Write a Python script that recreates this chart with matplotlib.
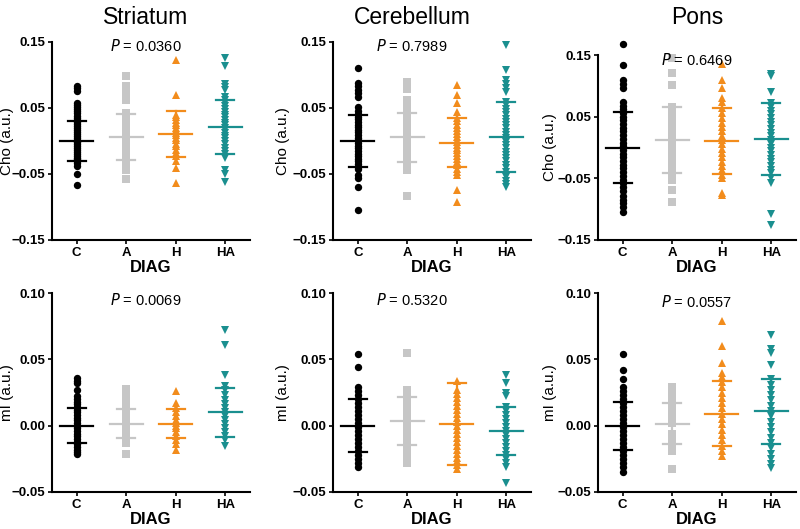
import matplotlib
matplotlib.use("Agg")
import matplotlib.pyplot as plt

plt.rcParams['font.family'] = ['Liberation Sans', 'DejaVu Sans']

groups = ["C", "A", "H", "HA"]
colors = ["#000000", "#c6c6c6", "#f28c1c", "#1a8f8f"]
markers = ["o", "s", "^", "v"]
regions = ["Striatum", "Cerebellum", "Pons"]

# Cho values per region, per group
cho_striatum = [
    [0.083, 0.080, 0.076, 0.058, 0.055, 0.052, 0.048, 0.045, 0.042, 0.038, 0.035, 0.032, 0.029, 0.026,
     0.022, 0.019, 0.016, 0.013, 0.010, 0.008, 0.005, 0.002, 0.0, -0.002, -0.005, -0.008, -0.010, -0.013,
     -0.016, -0.019, -0.022, -0.025, -0.028, -0.031, -0.034, -0.038, -0.050, -0.067],
    [0.099, 0.083, 0.078, 0.074, 0.062, 0.042, 0.039, 0.036, 0.033, 0.030, 0.027, 0.024, 0.020, 0.017,
     0.014, 0.011, 0.008, 0.005, 0.002, -0.001, -0.004, -0.008, -0.012, -0.016, -0.020, -0.024, -0.028,
     -0.033, -0.038, -0.044, -0.058],
    [0.123, 0.069, 0.040, 0.036, 0.032, 0.028, 0.024, 0.020, 0.016, 0.012, 0.009, 0.005, 0.001, -0.004,
     -0.008, -0.013, -0.018, -0.022, -0.030, -0.041, -0.064],
    [0.126, 0.113, 0.086, 0.082, 0.077, 0.066, 0.062, 0.058, 0.053, 0.048, 0.044, 0.040, 0.036, 0.032,
     0.028, 0.024, 0.020, 0.016, 0.012, 0.008, 0.004, 0.0, -0.005, -0.010, -0.015, -0.020, -0.025,
     -0.044, -0.050, -0.062],
]
cho_cerebellum = [
    [0.110, 0.088, 0.083, 0.078, 0.072, 0.066, 0.052, 0.045, 0.041, 0.037, 0.033, 0.029, 0.025, 0.021,
     0.017, 0.013, 0.009, 0.005, 0.001, -0.003, -0.007, -0.011, -0.015, -0.019, -0.023, -0.027, -0.031,
     -0.035, -0.039, -0.043, -0.052, -0.056, -0.069, -0.105],
    [0.090, 0.079, 0.062, 0.058, 0.054, 0.050, 0.046, 0.042, 0.038, 0.034, 0.030, 0.026, 0.022, 0.018,
     0.014, 0.010, 0.006, 0.002, -0.002, -0.006, -0.010, -0.014, -0.018, -0.022, -0.026, -0.030, -0.034,
     -0.038, -0.044, -0.083],
    [0.085, 0.070, 0.058, 0.044, 0.035, 0.030, 0.025, 0.020, 0.015, 0.010, 0.006, 0.002, -0.002, -0.006,
     -0.010, -0.014, -0.018, -0.022, -0.027, -0.032, -0.037, -0.042, -0.047, -0.052, -0.074, -0.092],
    [0.145, 0.108, 0.092, 0.086, 0.080, 0.074, 0.059, 0.054, 0.049, 0.044, 0.039, 0.034, 0.029, 0.024,
     0.019, 0.014, 0.009, 0.004, -0.001, -0.006, -0.011, -0.016, -0.021, -0.026, -0.031, -0.036, -0.041,
     -0.047, -0.055, -0.060, -0.065, -0.070],
]
cho_pons = [
    [0.168, 0.134, 0.109, 0.103, 0.097, 0.074, 0.068, 0.062, 0.056, 0.050, 0.044, 0.038, 0.032, 0.026,
     0.020, 0.014, 0.008, 0.002, -0.004, -0.010, -0.016, -0.022, -0.028, -0.034, -0.040, -0.046, -0.052,
     -0.058, -0.064, -0.070, -0.078, -0.085, -0.090, -0.096, -0.104],
    [0.145, 0.121, 0.101, 0.066, 0.060, 0.054, 0.048, 0.042, 0.036, 0.030, 0.024, 0.018, 0.012, 0.006,
     0.0, -0.006, -0.012, -0.018, -0.024, -0.030, -0.036, -0.042, -0.048, -0.053, -0.069, -0.088],
    [0.135, 0.109, 0.096, 0.080, 0.074, 0.064, 0.056, 0.048, 0.040, 0.033, 0.026, 0.019, 0.012, 0.005,
     -0.002, -0.009, -0.016, -0.023, -0.030, -0.037, -0.044, -0.050, -0.074, -0.077],
    [0.120, 0.116, 0.090, 0.072, 0.066, 0.060, 0.054, 0.048, 0.042, 0.036, 0.030, 0.024, 0.018, 0.012,
     0.006, 0.0, -0.006, -0.012, -0.018, -0.024, -0.030, -0.036, -0.042, -0.050, -0.058, -0.108, -0.126],
]

# mI values per region, per group
mi_striatum = [
    [0.036, 0.034, 0.032, 0.027, 0.022, 0.020, 0.018, 0.016, 0.014, 0.012, 0.010, 0.008, 0.006, 0.004,
     0.002, 0.0, -0.002, -0.004, -0.006, -0.008, -0.010, -0.012, -0.014, -0.016, -0.018, -0.020, -0.021],
    [0.028, 0.026, 0.023, 0.020, 0.017, 0.014, 0.011, 0.008, 0.005, 0.002, -0.001, -0.004, -0.007,
     -0.010, -0.013, -0.021],
    [0.026, 0.017, 0.013, 0.010, 0.007, 0.004, 0.002, 0.0, -0.002, -0.005, -0.008, -0.011, -0.014, -0.018],
    [0.072, 0.061, 0.038, 0.030, 0.027, 0.023, 0.019, 0.016, 0.013, 0.010, 0.007, 0.004, 0.001, -0.002,
     -0.005, -0.008, -0.011, -0.015],
]
mi_cerebellum = [
    [0.054, 0.044, 0.029, 0.026, 0.023, 0.020, 0.017, 0.014, 0.011, 0.008, 0.005, 0.002, -0.001, -0.004,
     -0.007, -0.010, -0.013, -0.016, -0.019, -0.022, -0.025, -0.028, -0.031],
    [0.055, 0.027, 0.024, 0.021, 0.018, 0.015, 0.012, 0.009, 0.006, 0.003, 0.0, -0.003, -0.006, -0.009,
     -0.012, -0.016, -0.020, -0.024, -0.028],
    [0.034, 0.027, 0.024, 0.021, 0.018, 0.015, 0.012, 0.009, 0.006, 0.003, 0.0, -0.003, -0.006, -0.009,
     -0.012, -0.015, -0.018, -0.021, -0.024, -0.027, -0.030, -0.033],
    [0.038, 0.032, 0.025, 0.022, 0.014, 0.011, 0.008, 0.005, 0.002, -0.001, -0.004, -0.007, -0.010,
     -0.013, -0.016, -0.019, -0.022, -0.025, -0.028, -0.031, -0.043],
]
mi_pons = [
    [0.054, 0.042, 0.035, 0.029, 0.026, 0.023, 0.020, 0.017, 0.014, 0.011, 0.008, 0.005, 0.002, -0.001,
     -0.004, -0.007, -0.010, -0.013, -0.016, -0.019, -0.022, -0.025, -0.028, -0.031, -0.035],
    [0.029, 0.026, 0.023, 0.020, 0.017, 0.014, 0.011, 0.008, 0.005, 0.002, -0.006, -0.009, -0.012,
     -0.015, -0.019, -0.033],
    [0.079, 0.060, 0.047, 0.040, 0.037, 0.033, 0.029, 0.025, 0.021, 0.017, 0.013, 0.009, 0.005, 0.001,
     -0.003, -0.007, -0.011, -0.015, -0.019, -0.023],
    [0.068, 0.058, 0.055, 0.046, 0.035, 0.031, 0.027, 0.023, 0.019, 0.015, 0.011, 0.007, 0.003, -0.001,
     -0.005, -0.009, -0.013, -0.017, -0.021, -0.025, -0.029, -0.032],
]

# mean and SD lines as shown
cho_mean = [[0.0, 0.0056, 0.011, 0.021], [0.0, 0.0056, -0.0026, 0.0056], [0.0, 0.012, 0.0106, 0.0139]]
cho_sd = [[0.030, 0.035, 0.035, 0.041], [0.040, 0.037, 0.037, 0.053], [0.057, 0.053, 0.054, 0.058]]
mi_mean = [[0.0, 0.0015, 0.0015, 0.010], [0.0, 0.0034, 0.0015, -0.0038], [0.0, 0.0015, 0.0088, 0.0108]]
mi_sd = [[0.013, 0.011, 0.011, 0.0185], [0.020, 0.018, 0.031, 0.018], [0.018, 0.0155, 0.0245, 0.0245]]

cho_p = ["0.0360", "0.7989", "0.6469"]
mi_p = ["0.0069", "0.5320", "0.0557"]

fig = plt.figure(figsize=(8, 5.29), dpi=100)

# axes boxes in pixels: left, top, right, bottom
W, H = 800, 529
top_boxes = [(52, 42, 250, 240), (333, 42, 531, 240), (598, 55, 796, 240)]
bot_boxes = [(52, 293, 250, 492), (333, 293, 531, 492), (598, 293, 796, 492)]
col_centers = [146, 412, 697]
top_p_y = [46, 46, 60]
bot_p_y = [300, 300, 302]
ylabel_x = [14, 290, 557]


def make_ax(box):
    l, t, r, b = box
    return fig.add_axes([l / W, (H - b) / H, (r - l) / W, (b - t) / H])


def draw_panel(ax, box, data, means, sds, ylim, yticks, ylabel, ptxt, pxy, ylx):
    for i, vals in enumerate(data):
        ax.plot([i] * len(vals), vals, linestyle='none', marker=markers[i], markersize=5.3,
                color=colors[i], markeredgewidth=0, clip_on=False, zorder=3)
        m, s = means[i], sds[i]
        ax.plot([i - 0.33, i + 0.33], [m, m], color=colors[i], lw=1.6, zorder=4)
        ax.plot([i - 0.18, i + 0.18], [m + s, m + s], color=colors[i], lw=1.6, zorder=4)
        ax.plot([i - 0.18, i + 0.18], [m - s, m - s], color=colors[i], lw=1.6, zorder=4)
        ax.plot([i, i], [m - s, m + s], color=colors[i], lw=1.6, zorder=4)
    ax.set_xlim(-0.5, 3.5)
    ax.set_ylim(*ylim)
    ax.set_yticks(yticks)
    ax.set_yticklabels(["{:.2f}".format(v).replace("-", "\u2212") for v in yticks], fontweight='bold')
    ax.set_xticks(range(4))
    ax.set_xticklabels(groups, fontweight='bold')
    ax.tick_params(labelsize=9.5, width=1.2, length=3, pad=2)
    for sp in ["top", "right"]:
        ax.spines[sp].set_visible(False)
    for sp in ["left", "bottom"]:
        ax.spines[sp].set_linewidth(1.5)
    ax.set_xlabel("DIAG", fontweight='bold', fontsize=12, labelpad=1)
    ax.set_ylabel(ylabel, fontsize=11)
    l, t, r, b = box
    ax.yaxis.set_label_coords((ylx - l) / (r - l), 0.5)
    fig.text(pxy[0] / W, 1 - pxy[1] / H, "$\\it{P}$ = " + ptxt, ha='center', va='center', fontsize=10.5)


cho_data = [cho_striatum, cho_cerebellum, cho_pons]
mi_data = [mi_striatum, mi_cerebellum, mi_pons]

for k in range(3):
    ax = make_ax(top_boxes[k])
    draw_panel(ax, top_boxes[k], cho_data[k], cho_mean[k], cho_sd[k], (-0.15, 0.15),
               [-0.15, -0.05, 0.05, 0.15], "Cho (a.u.)", cho_p[k],
               (col_centers[k], top_p_y[k]), ylabel_x[k])
    fig.text(col_centers[k] / W, 1 - 18 / H, regions[k], ha='center', va='center', fontsize=16.5)

    ax2 = make_ax(bot_boxes[k])
    draw_panel(ax2, bot_boxes[k], mi_data[k], mi_mean[k], mi_sd[k], (-0.05, 0.10),
               [-0.05, 0.0, 0.05, 0.10], "mI (a.u.)", mi_p[k],
               (col_centers[k], bot_p_y[k]), ylabel_x[k])

fig.savefig("out.png", dpi=100)
